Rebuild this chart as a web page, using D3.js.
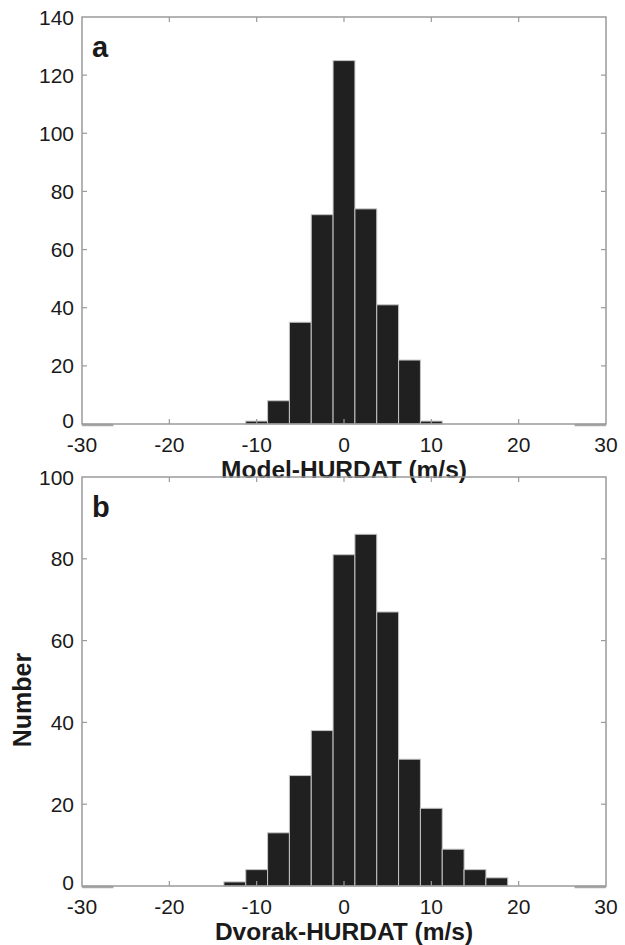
<!DOCTYPE html>
<html>
<head>
<meta charset="utf-8">
<script src="https://cdn.jsdelivr.net/npm/d3@7"></script>
<style>
  html, body { margin: 0; padding: 0; background: #fff; }
  svg text { font-family: "Liberation Sans", Arial, Helvetica, sans-serif; fill: #1a1a1a; }
</style>
</head>
<body>
<svg id="chart" width="625" height="945"></svg>
<script>
// histogram data (bin width 2.5 m/s)
const binWidth = 2.5;
const modelCenters = [-10, -7.5, -5, -2.5, 0, 2.5, 5, 7.5, 10];
const modelCounts = [1, 8, 35, 72, 125, 74, 41, 22, 1];
const dvorakCenters = [-12.5, -10, -7.5, -5, -2.5, 0, 2.5, 5, 7.5, 10, 12.5, 15, 17.5];
const dvorakCounts = [1, 4, 13, 27, 38, 81, 86, 67, 31, 19, 9, 4, 2];

const xTicks = [-30, -20, -10, 0, 10, 20, 30];
const yTicksA = [0, 20, 40, 60, 80, 100, 120, 140];
const yTicksB = [0, 20, 40, 60, 80, 100];

const panels = [
  { letter: 'a', label: 'Model-HURDAT (m/s)', centers: modelCenters, counts: modelCounts,
    yMax: 140, yTicks: yTicksA, top: 17, bottom: 424 },
  { letter: 'b', label: 'Dvorak-HURDAT (m/s)', centers: dvorakCenters, counts: dvorakCounts,
    yMax: 100, yTicks: yTicksB, top: 477, bottom: 886 }
];

const svg = d3.select('#chart');
const left = 82, right = 606;
const axisColor = '#9a9a9a';
const tickLen = 5;

const x = d3.scaleLinear().domain([-30, 30]).range([left, right]);

panels.forEach(p => {
  const y = d3.scaleLinear().domain([0, p.yMax]).range([p.bottom, p.top]);
  const g = svg.append('g');

  const bins = p.centers.map((c, i) => ({ x0: c - binWidth / 2, x1: c + binWidth / 2, n: p.counts[i] }));

  // bars
  g.append('g')
    .selectAll('rect')
    .data(bins)
    .enter()
    .append('rect')
    .attr('x', d => x(d.x0))
    .attr('width', d => x(d.x1) - x(d.x0))
    .attr('y', d => y(d.n))
    .attr('height', d => y(0) - y(d.n))
    .attr('fill', '#202020')
    .attr('stroke', '#c4c4c4')
    .attr('stroke-width', 1);

  // grey stubs at both ends of the baseline
  [[-30, -26.4], [26.4, 30]].forEach(r => {
    g.append('line')
      .attr('x1', x(r[0])).attr('x2', x(r[1]))
      .attr('y1', y(0) + 1).attr('y2', y(0) + 1)
      .attr('stroke', '#a8a8a8')
      .attr('stroke-width', 2.5);
  });

  // box
  g.append('rect')
    .attr('x', left).attr('y', p.top)
    .attr('width', right - left).attr('height', p.bottom - p.top)
    .attr('fill', 'none')
    .attr('stroke', axisColor)
    .attr('stroke-width', 1.5);

  // inward ticks on all four sides
  const ticks = g.append('g').attr('stroke', axisColor).attr('stroke-width', 1.2);
  xTicks.slice(1, -1).forEach(t => {
    ticks.append('line').attr('x1', x(t)).attr('x2', x(t)).attr('y1', p.bottom).attr('y2', p.bottom - tickLen);
    ticks.append('line').attr('x1', x(t)).attr('x2', x(t)).attr('y1', p.top).attr('y2', p.top + tickLen);
  });
  p.yTicks.slice(1, -1).forEach(t => {
    ticks.append('line').attr('x1', left).attr('x2', left + tickLen).attr('y1', y(t)).attr('y2', y(t));
    ticks.append('line').attr('x1', right).attr('x2', right - tickLen).attr('y1', y(t)).attr('y2', y(t));
  });

  // tick labels
  g.append('g')
    .selectAll('text')
    .data(xTicks)
    .enter()
    .append('text')
    .attr('x', d => x(d))
    .attr('y', p.bottom + 28)
    .attr('text-anchor', 'middle')
    .attr('font-size', 21)
    .text(d => d);

  g.append('g')
    .selectAll('text')
    .data(p.yTicks)
    .enter()
    .append('text')
    .attr('x', left - 8)
    .attr('y', d => y(d))
    .attr('dy', d => d === 0 ? '0.2em' : '0.36em')
    .attr('text-anchor', 'end')
    .attr('font-size', 21)
    .text(d => d);

  // axis title and panel letter
  g.append('text')
    .attr('x', (left + right) / 2)
    .attr('y', p.bottom + 54)
    .attr('text-anchor', 'middle')
    .attr('font-size', 24.5)
    .attr('font-weight', 'bold')
    .text(p.label);

  g.append('text')
    .attr('x', 92)
    .attr('y', p.top + 40)
    .attr('font-size', 29)
    .attr('font-weight', 'bold')
    .text(p.letter);
});

svg.append('text')
  .attr('transform', 'translate(31,700) rotate(-90)')
  .attr('text-anchor', 'middle')
  .attr('font-size', 25)
  .attr('font-weight', 'bold')
  .text('Number');
</script>
</body>
</html>
